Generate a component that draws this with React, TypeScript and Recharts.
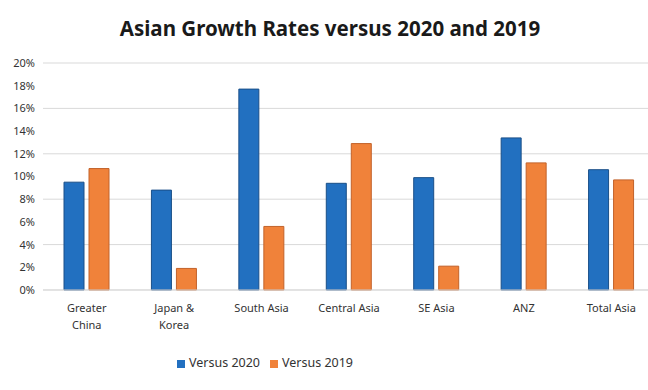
import { BarChart, Bar, XAxis, YAxis, CartesianGrid, Legend } from "recharts";

const categories = ["Greater China", "Japan & Korea", "South Asia", "Central Asia", "SE Asia", "ANZ", "Total Asia"];
const tickLines = [["Greater", "China"], ["Japan &", "Korea"], ["South Asia"], ["Central Asia"], ["SE Asia"], ["ANZ"], ["Total Asia"]];
const versus2020 = [0.095, 0.088, 0.177, 0.094, 0.099, 0.134, 0.106];
const versus2019 = [0.107, 0.019, 0.056, 0.129, 0.021, 0.112, 0.097];
const yTicks = [0, 0.02, 0.04, 0.06, 0.08, 0.1, 0.12, 0.14, 0.16, 0.18, 0.2];
const seriesOrder = ["Versus 2020", "Versus 2019"];

const data = categories.map((name, i) => ({
  name,
  v2020: versus2020[i],
  v2019: versus2019[i],
}));

const FONT = "'Noto Sans', sans-serif";

function CategoryTick(props: any) {
  const { x, y, payload } = props;
  const lines = tickLines[payload.index] || [payload.value];
  return (
    <g transform={`translate(${x},${y})`}>
      {lines.map((line, i) => (
        <text key={i} x={0} y={14 + i * 17} textAnchor="middle" fontSize={11} fill="#333" fontFamily={FONT}>
          {line}
        </text>
      ))}
    </g>
  );
}

export default function App() {
  return (
    <div style={{ position: "fixed", left: 0, top: 0, width: 648, height: 390, overflow: "hidden", background: "#fff" }}>
      <div
        style={{
          position: "absolute",
          top: 14,
          left: 0,
          width: 660,
          textAlign: "center",
          fontFamily: FONT,
          fontWeight: 700,
          fontSize: 20.5,
          color: "#1a1a1a",
        }}
      >
        Asian Growth Rates versus 2020 and 2019
      </div>
      <BarChart
        width={660}
        height={390}
        data={data}
        margin={{ top: 63, right: 5, left: 0, bottom: 23 }}
        barSize={20}
        barGap={5}
      >
        <CartesianGrid vertical={false} stroke="#d9d9d9" />
        <XAxis
          dataKey="name"
          axisLine={{ stroke: "#d9d9d9" }}
          tickLine={false}
          interval={0}
          height={60}
          tick={<CategoryTick />}
        />
        <YAxis
          width={43}
          domain={[0, 0.2]}
          ticks={yTicks}
          axisLine={false}
          tickLine={false}
          tickFormatter={(v: number) => `${Math.round(v * 100)}%`}
          tick={{ fontSize: 11, fill: "#333", fontFamily: FONT }}
        />
        <Legend
          verticalAlign="bottom"
          iconType="square"
          iconSize={8}
          itemSorter={(item: any) => seriesOrder.indexOf(item.value)}
          wrapperStyle={{ top: 354, left: 0, width: 540, fontFamily: FONT, fontSize: 12.5, color: "#333" }}
          formatter={(value: string) => <span style={{ color: "#333" }}>{value}</span>}
        />
        <Bar dataKey="v2020" name="Versus 2020" fill="#2270c0" stroke="#1a4f88" strokeWidth={1} isAnimationActive={false} />
        <Bar dataKey="v2019" name="Versus 2019" fill="#f0823a" stroke="#c2622a" strokeWidth={1} isAnimationActive={false} />
      </BarChart>
    </div>
  );
}
